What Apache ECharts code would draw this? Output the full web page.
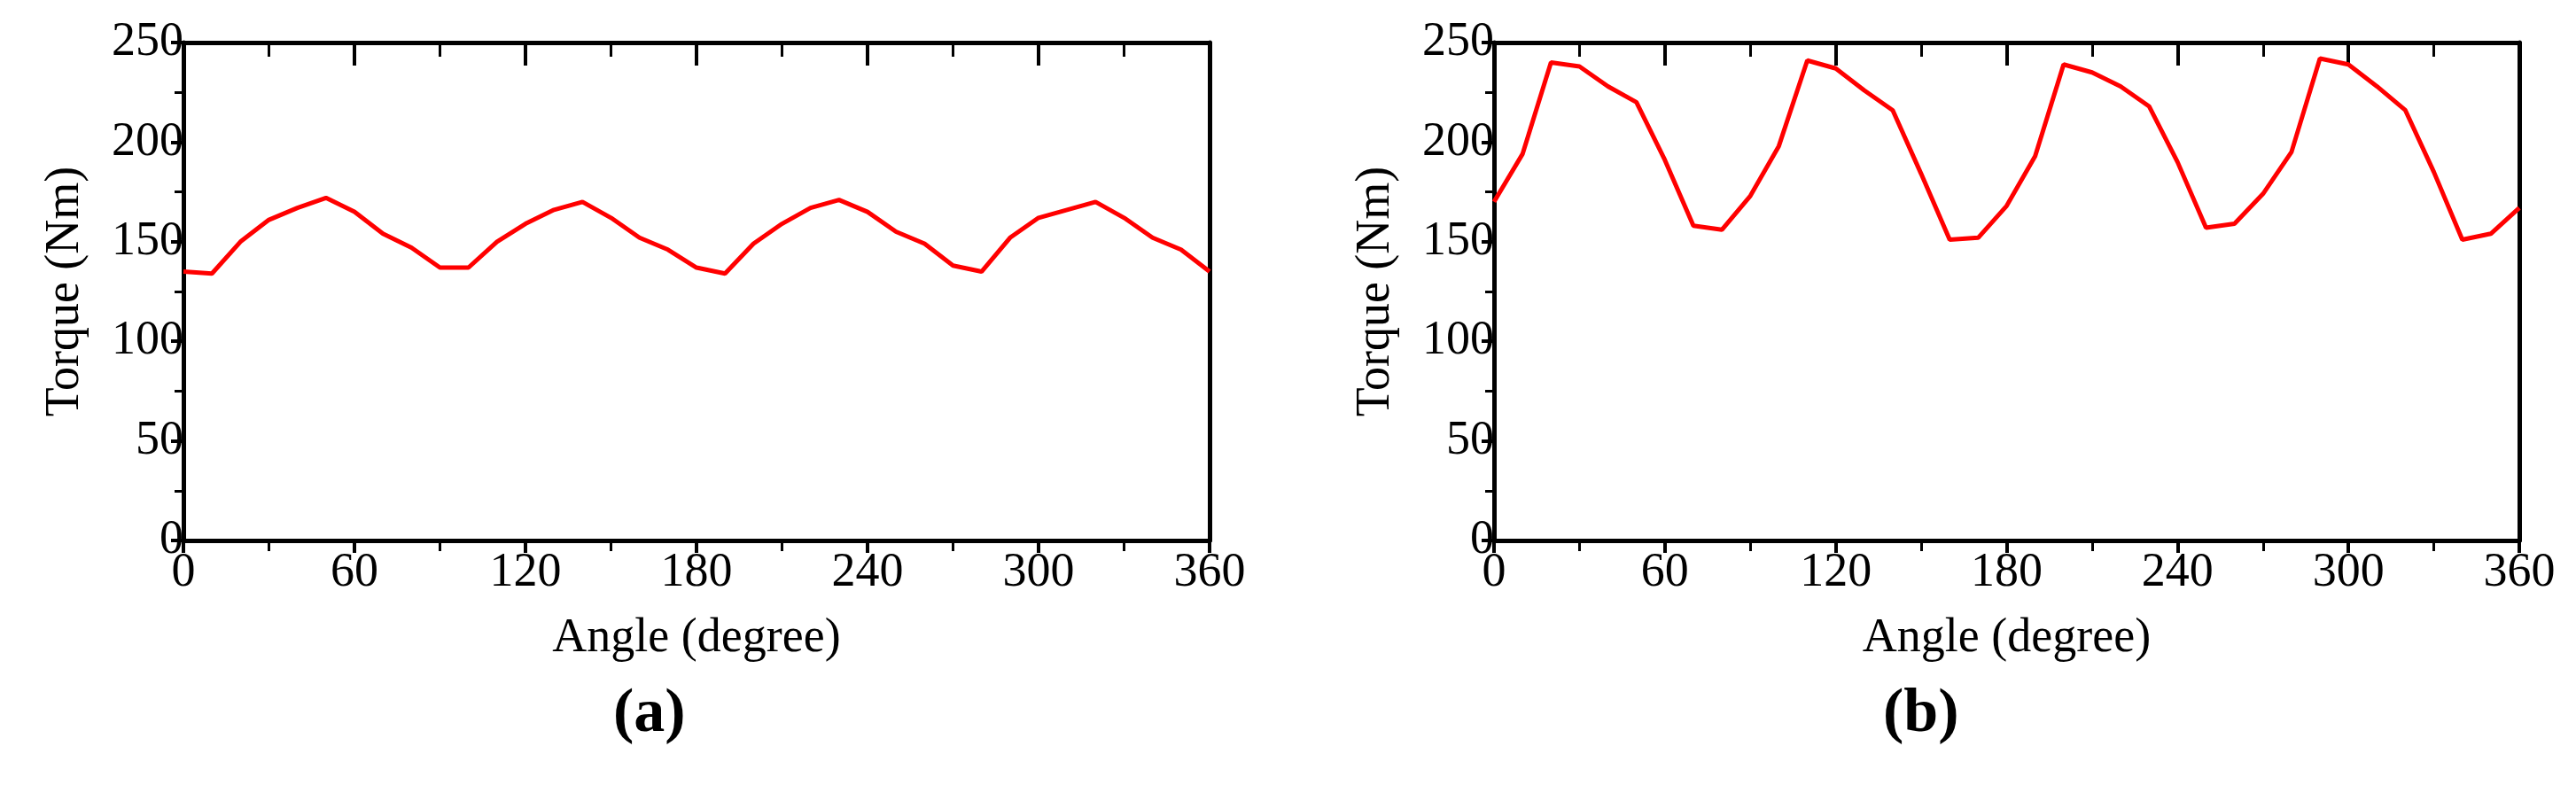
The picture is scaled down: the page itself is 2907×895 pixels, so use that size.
<!DOCTYPE html><html><head><meta charset="utf-8">
<script src="https://cdn.jsdelivr.net/npm/echarts@6/dist/echarts.min.js"></script>
<style>html,body{margin:0;background:#fff}#c{width:2907px;height:895px}</style></head><body><div id="c"></div><script>
const angles=[0,10,20,30,40,50,60,70,80,90,100,110,120,130,140,150,160,170,180,190,200,210,220,230,240,250,260,270,280,290,300,310,320,330,340,350,360];
const torqueA=[135,134,150,161,167,172,165,154,147,137,137,150,159,166,170,162,152,146,137,134,149,159,167,171,165,155,149,138,135,152,162,166,170,162,152,146,135];
const torqueB=[170,194,240,238,228,220,191,158,156,173,198,241,237,226,216,184,151,152,168,193,239,235,228,218,190,157,159,174,195,242,239,228,216,185,151,154,167];
const panelLabels=['a','b'];
const font='Liberation Serif';
const grids=[{left:207,right:2907-1365,top:48,height:562},{left:1686,right:2907-2843,top:48,height:562}];
const xAxes=[],yAxes=[],series=[];
[torqueA,torqueB].forEach((d,i)=>{
 xAxes.push({type:'value',gridIndex:i,min:0,max:360,interval:60,position:'bottom',
  axisLine:{onZero:false,lineStyle:{color:'#000',width:5}},axisTick:{length:14,lineStyle:{color:'#000',width:4}},
  minorTick:{show:true,splitNumber:2,length:12,lineStyle:{color:'#000',width:3}},splitLine:{show:false},
  axisLabel:{color:'#000',fontFamily:font,fontSize:54,margin:10},
  name:'Angle (degree)',nameLocation:'middle',nameGap:84,nameTextStyle:{color:'#000',fontFamily:font,fontSize:54}});
 xAxes.push({type:'value',gridIndex:i,min:0,max:360,interval:60,position:'top',
  axisLine:{onZero:false,lineStyle:{color:'#000',width:5}},axisTick:{inside:true,length:26,lineStyle:{color:'#000',width:4}},
  minorTick:{show:true,splitNumber:2,length:16,lineStyle:{color:'#000',width:3}},axisLabel:{show:false},splitLine:{show:false}});
 yAxes.push({type:'value',gridIndex:i,min:0,max:250,interval:50,position:'left',
  axisLine:{show:true,onZero:false,lineStyle:{color:'#000',width:5}},axisTick:{show:true,length:14,lineStyle:{color:'#000',width:4}},
  minorTick:{show:true,splitNumber:2,length:10,lineStyle:{color:'#000',width:3}},splitLine:{show:false},
  axisLabel:{color:'#000',fontFamily:font,fontSize:54,margin:0},
  name:'Torque (Nm)',nameLocation:'middle',nameGap:106,nameTextStyle:{color:'#000',fontFamily:font,fontSize:54}});
 yAxes.push({type:'value',gridIndex:i,min:0,max:250,position:'right',axisLine:{show:true,onZero:false,lineStyle:{color:'#000',width:5}},axisTick:{show:false},axisLabel:{show:false},splitLine:{show:false}});
 series.push({type:'line',xAxisIndex:2*i,yAxisIndex:2*i,data:angles.map((a,k)=>[a,d[k]]),showSymbol:false,lineStyle:{color:'#ff0000',width:5},color:'#ff0000'});
});
const chart=echarts.init(document.getElementById('c'));
chart.setOption({animation:false,backgroundColor:'#fff',grid:grids,xAxis:xAxes,yAxis:yAxes,series,
 graphic:panelLabels.map((l,i)=>({type:'text',left:i?2125:692,top:772,style:{text:'('+l+')',fontFamily:font,fontSize:70,fontWeight:'bold',fill:'#000'}}))});
</script></body></html>
